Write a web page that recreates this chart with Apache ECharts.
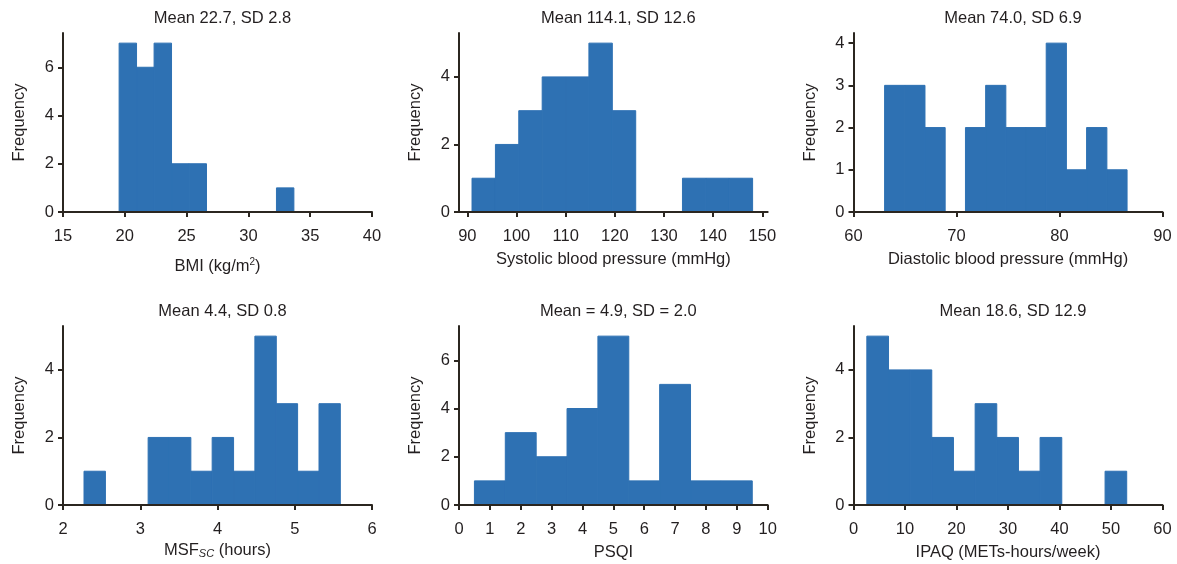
<!DOCTYPE html>
<html>
<head>
<meta charset="utf-8">
<script src="https://cdn.jsdelivr.net/npm/echarts@6/dist/echarts.min.js"></script>
<style>
html,body{margin:0;padding:0;background:#fff;}
#chart{width:1177px;height:564px;}
</style>
</head>
<body>
<div id="chart"></div>
<script>
// ---- Data ----
const titles = ['Mean 22.7, SD 2.8', 'Mean 114.1, SD 12.6', 'Mean 74.0, SD 6.9',
                'Mean 4.4, SD 0.8', 'Mean = 4.9, SD = 2.0', 'Mean 18.6, SD 12.9'];
const xNames = ['BMI (kg/m{sup|2})', 'Systolic blood pressure (mmHg)', 'Diastolic blood pressure (mmHg)',
                'MSF{sub|SC} (hours)', 'PSQI', 'IPAQ (METs-hours/week)'];

const bmiEdges = [19.54, 20.95, 22.37, 23.78, 25.2, 26.61, 28.02, 29.44, 30.85, 32.27, 33.68];
const bmiCounts = [7, 6, 7, 2, 2, 0, 0, 0, 0, 1];

const sbpEdges = [90.95, 95.71, 100.46, 105.22, 109.98, 114.73, 119.49, 124.25, 129.0, 133.76, 138.52, 143.27, 148.03];
const sbpCounts = [1, 2, 3, 4, 4, 5, 3, 0, 0, 1, 1, 1];

const dbpEdges = [63.02, 64.98, 66.94, 68.9, 70.87, 72.83, 74.79, 76.75, 78.71, 80.67, 82.63, 84.6, 86.56];
const dbpCounts = [3, 3, 2, 0, 2, 3, 2, 2, 4, 1, 2, 1];

const msfEdges = [2.272, 2.549, 2.825, 3.102, 3.378, 3.655, 3.931, 4.208, 4.484, 4.761, 5.037, 5.314, 5.59];
const msfCounts = [1, 0, 0, 2, 2, 1, 2, 1, 5, 3, 1, 3];

const psqiEdges = [0.5, 1.5, 2.5, 3.5, 4.5, 5.5, 6.5, 7.5, 8.5, 9.5];
const psqiCounts = [1, 3, 2, 4, 7, 1, 5, 1, 1];

const ipaqEdges = [2.59, 6.8, 11.0, 15.2, 19.41, 23.62, 27.82, 32.03, 36.23, 40.44, 44.64, 48.85, 53.05];
const ipaqCounts = [5, 4, 4, 2, 1, 3, 2, 1, 2, 0, 0, 1];

const xRanges = [[15, 40], [88.3, 151.1], [60, 90], [2, 6], [0, 10], [0, 60]];
const xTickLabels = [
  [15, 20, 25, 30, 35, 40],
  [90, 100, 110, 120, 130, 140, 150],
  [60, 70, 80, 90],
  [2, 3, 4, 5, 6],
  [0, 1, 2, 3, 4, 5, 6, 7, 8, 9, 10],
  [0, 10, 20, 30, 40, 50, 60]
];
const yTickLabels = [
  [0, 2, 4, 6],
  [0, 2, 4],
  [0, 1, 2, 3, 4],
  [0, 2, 4],
  [0, 2, 4, 6],
  [0, 2, 4]
];
const allEdges = [bmiEdges, sbpEdges, dbpEdges, msfEdges, psqiEdges, ipaqEdges];
const allCounts = [bmiCounts, sbpCounts, dbpCounts, msfCounts, psqiCounts, ipaqCounts];

// ---- Layout / style ----
const FONT = "'Liberation Sans', Arial, Helvetica, sans-serif";
const FS = 16.5;
const TXT = '#231f20';
const AX = '#2b2620';
const BAR = '#2e71b3';
const lefts = [63, 459, 853.5];
const widths = [309, 308.7, 309];
const tops = [33, 326];
const H = 179;
const xNameGaps = [45, 38, 38, 36, 38, 38];

const grids = [], xAxes = [], yAxes = [], series = [], titleOpts = [];
for (let i = 0; i < 6; i++) {
  const col = i % 3, row = Math.floor(i / 3);
  grids.push({left: lefts[col], top: tops[row], width: widths[col], height: H, containLabel: false});
  titleOpts.push({
    text: titles[i], left: lefts[col] + widths[col] / 2, top: tops[row] - 28, textAlign: 'center',
    textStyle: {fontFamily: FONT, fontSize: FS, fontWeight: 'normal', color: TXT}
  });
  xAxes.push({
    type: 'value', gridIndex: i, min: xRanges[i][0], max: xRanges[i][1], z: 5,
    name: xNames[i], nameLocation: 'middle', nameGap: xNameGaps[i],
    nameTextStyle: {
      fontFamily: FONT, fontSize: FS, color: TXT, lineHeight: 18,
      rich: {
        sup: {fontFamily: FONT, fontSize: 10, color: TXT, verticalAlign: 'top', lineHeight: 18, padding: [0, 0, 7, 0]},
        sub: {fontFamily: FONT, fontSize: 11, fontStyle: 'italic', color: TXT, verticalAlign: 'bottom', lineHeight: 18, padding: [8, 0, 0, 0]}
      }
    },
    splitLine: {show: false},
    axisLine: {show: true, onZero: false, lineStyle: {color: AX, width: 2}},
    axisTick: {show: true, inside: false, length: 5, lineStyle: {color: AX, width: 2}, customValues: xTickLabels[i]},
    axisLabel: {show: true, margin: 16, fontFamily: FONT, fontSize: FS, color: TXT, customValues: xTickLabels[i]}
  });
  const maxC = Math.max(...allCounts[i]);
  yAxes.push({
    type: 'value', gridIndex: i, min: 0, max: maxC * 1.06, z: 5,
    name: 'Frequency', nameLocation: 'middle', nameGap: 35, nameRotate: 90,
    nameTextStyle: {fontFamily: FONT, fontSize: FS, color: TXT},
    splitLine: {show: false},
    axisLine: {show: true, onZero: false, lineStyle: {color: AX, width: 2}},
    axisTick: {show: true, inside: false, length: 5, lineStyle: {color: AX, width: 2}, customValues: yTickLabels[i]},
    axisLabel: {show: true, margin: 9, fontFamily: FONT, fontSize: FS, color: TXT, customValues: yTickLabels[i]}
  });
  const edges = allEdges[i], counts = allCounts[i];
  const data = counts.map((c, k) => [edges[k], edges[k + 1], c]);
  series.push({
    type: 'custom', xAxisIndex: i, yAxisIndex: i, z: 2,
    encode: {x: [0, 1], y: 2},
    data: data,
    renderItem: function (params, api) {
      const c = api.value(2);
      if (!c) return null;
      const p0 = api.coord([api.value(0), 0]);
      const p1 = api.coord([api.value(1), c]);
      return {
        type: 'rect',
        shape: {x: p0[0], y: p1[1], width: p1[0] - p0[0], height: p0[1] - p1[1]},
        style: {fill: BAR, stroke: BAR, lineWidth: 1}
      };
    }
  });
}

const chart = echarts.init(document.getElementById('chart'), null, {renderer: 'canvas'});
chart.setOption({
  animation: false,
  backgroundColor: '#ffffff',
  title: titleOpts,
  grid: grids,
  xAxis: xAxes,
  yAxis: yAxes,
  series: series
});
</script>
</body>
</html>
